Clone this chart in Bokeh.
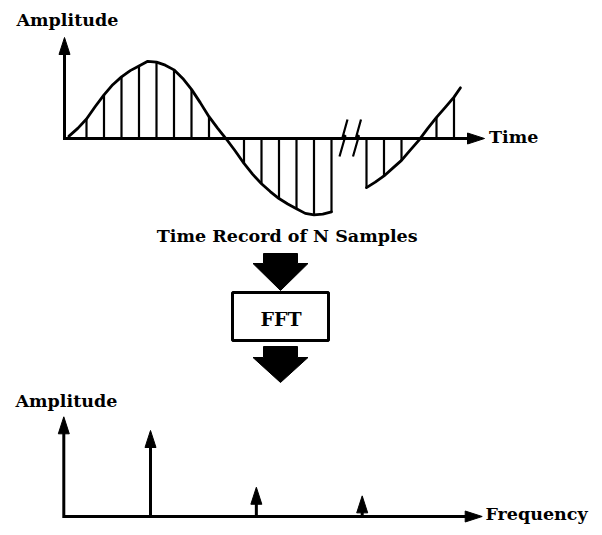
from bokeh.plotting import figure
from bokeh.models import Range1d, Label
from bokeh.embed import file_html
from bokeh.resources import INLINE

# ---------------- data ----------------
# time record, first stretch: sample index (half-sample steps) and amplitude (peak = 1)
CURVE1_N = [0, 0.5, 1, 1.5, 2, 2.5, 3, 3.5, 4, 4.5, 5, 5.5, 6, 6.5, 7, 7.5,
            8, 8.5, 9, 9.5, 10, 10.5, 11, 11.5, 12, 12.5, 13, 13.5, 14, 14.5, 15]
CURVE1_V = [0.03, 0.13, 0.25, 0.41, 0.56, 0.69, 0.79, 0.87, 0.93, 0.99, 0.98, 0.94,
            0.88, 0.77, 0.63, 0.46, 0.28, 0.13, -0.01, -0.16, -0.32, -0.46, -0.58,
            -0.68, -0.77, -0.84, -0.90, -0.96, -0.98, -0.97, -0.94]
# time record, last stretch (after the break)
CURVE2_N = [17, 17.5, 18, 18.5, 19, 19.5, 20, 20.5, 21, 21.5, 22, 22.37]
CURVE2_V = [-0.63, -0.56, -0.48, -0.38, -0.28, -0.15, -0.02, 0.13, 0.27, 0.40, 0.53, 0.65]
# the drawn samples
SAMPLE_N = [1, 2, 3, 4, 5, 6, 7, 8, 9, 10, 11, 12, 13, 14, 15, 17, 18, 19, 20, 21, 22]
SAMPLE_V = [0.25, 0.56, 0.79, 0.93, 0.98, 0.88, 0.63, 0.28, -0.01, -0.32, -0.58,
            -0.77, -0.90, -0.98, -0.94, -0.63, -0.48, -0.28, -0.02, 0.27, 0.53]
# spectrum lines
SPEC_F = [1, 2, 3]
SPEC_A = [1.00, 0.34, 0.24]

TXT_AMP = "Amplitude"
TXT_TIME = "Time"
TXT_CAPTION = "Time Record of N Samples"
TXT_FFT = "FFT"
TXT_FREQ = "Frequency"

# ---------------- layout (pixels) ----------------
W, H = 594, 527
PX0, PX1, PY0, PY1 = 0, W, 0, H
FONT = "DejaVu Serif"
FSIZE = "17.5px"
INK = "black"
HEAD_L, HEAD_W = 17, 11
TXT_DY = -6.5  # rendered text sits lower than its anchor; compensate

# time panel
T_AXIS_X, T_BASE_Y, T_AXIS_TOP, T_AXIS_END = 64, 138, 37, 484
T_N0_X, T_DX, T_AMP_PX = 68.5, 17.5, 78
BREAK_X = [343, 356.5]
# frequency panel (moved up a little so that its label fits)
F_AXIS_X, F_BASE_Y, F_AXIS_TOP, F_AXIS_END = 63.3, 516, 416.3, 481.7
F_0_X, F_DX, F_AMP_PX = 44.15, 105.85, 86

p = figure(width=W, height=H, x_range=Range1d(PX0, PX1), y_range=Range1d(PY1, PY0),
           output_backend="svg", toolbar_location=None, min_border=0,
           x_axis_location=None, y_axis_location=None)
p.outline_line_color = None
p.background_fill_color = "white"
p.border_fill_color = "white"
p.grid.visible = False

p.extra_x_ranges = {
    "t": Range1d((PX0 - T_N0_X) / T_DX, (PX1 - T_N0_X) / T_DX),
    "f": Range1d((PX0 - F_0_X) / F_DX, (PX1 - F_0_X) / F_DX),
}
p.extra_y_ranges = {
    "a": Range1d((T_BASE_Y - PY1) / T_AMP_PX, (T_BASE_Y - PY0) / T_AMP_PX),
    "s": Range1d((F_BASE_Y - PY1) / F_AMP_PX, (F_BASE_Y - PY0) / F_AMP_PX),
}


def axes(ax_x, base_y, top_y, end_x):
    p.line([ax_x, ax_x, end_x - 8], [top_y + 8, base_y, base_y], line_width=3,
           color=INK, line_join="miter")
    p.patches([[ax_x - HEAD_W / 2, ax_x, ax_x + HEAD_W / 2],
               [end_x - HEAD_L, end_x, end_x - HEAD_L]],
              [[top_y + HEAD_L, top_y, top_y + HEAD_L],
               [base_y - HEAD_W / 2, base_y, base_y + HEAD_W / 2]],
              fill_color=INK, line_color=INK, line_width=1)


# ---------------- time record ----------------
axes(T_AXIS_X, T_BASE_Y, T_AXIS_TOP, T_AXIS_END)
p.segment(x0=SAMPLE_N, y0=[0] * len(SAMPLE_N), x1=SAMPLE_N, y1=SAMPLE_V,
          x_range_name="t", y_range_name="a", line_width=2.2, color=INK)
p.line(CURVE1_N, CURVE1_V, x_range_name="t", y_range_name="a",
       line_width=2.8, color=INK, line_join="round", line_cap="round")
p.line(CURVE2_N, CURVE2_V, x_range_name="t", y_range_name="a",
       line_width=2.8, color=INK, line_join="round", line_cap="round")
# break marks
bx, by = [], []
for cx in BREAK_X:
    bx.append([cx + 4, cx - 1, cx + 2, cx - 4])
    by.append([T_BASE_Y - 19, T_BASE_Y - 1, T_BASE_Y - 3, T_BASE_Y + 18])
p.multi_line(bx, by, line_width=2.2, color=INK)

# ---------------- FFT block ----------------
def block_arrow(top, shoulder, tip, cx=280, shaft=17, head=27.5):
    return ([cx - shaft, cx + shaft, cx + shaft, cx + head, cx, cx - head, cx - shaft],
            [top, top, shoulder, shoulder, tip, shoulder, shoulder])

a1 = block_arrow(253, 263, 290)
a2 = block_arrow(346, 357, 382)
p.patches([a1[0], a2[0]], [a1[1], a2[1]], fill_color=INK, line_color=INK, line_width=1)
p.quad(left=232, right=328, top=292, bottom=340, fill_color=None,
       line_color=INK, line_width=3)

# ---------------- spectrum ----------------
axes(F_AXIS_X, F_BASE_Y, F_AXIS_TOP, F_AXIS_END)
hl = HEAD_L / F_AMP_PX
hw = HEAD_W / 2 / F_DX
p.segment(x0=SPEC_F, y0=[0] * 3, x1=SPEC_F, y1=[a - hl * 0.6 for a in SPEC_A],
          x_range_name="f", y_range_name="s", line_width=3, color=INK)
p.patches([[f - hw, f, f + hw] for f in SPEC_F],
          [[a - hl, a, a - hl] for a in SPEC_A],
          x_range_name="f", y_range_name="s", fill_color=INK, line_color=INK, line_width=1)

# ---------------- texts ----------------
def label(x, y, text, align="left", size=FSIZE):
    p.add_layout(Label(x=x, y=y + TXT_DY, text=text, text_align=align,
                       text_baseline="alphabetic", text_font=FONT,
                       text_font_style="bold", text_font_size=size, text_color=INK))

label(16, 26, TXT_AMP)
label(488.5, 142.7, TXT_TIME)
label(286.7, 242.3, TXT_CAPTION, "center")
label(280.5, 324.5, TXT_FFT, "center", "19px")
label(15, 407, TXT_AMP)
label(485, 519.5, TXT_FREQ)

open("out.html", "w").write(file_html(p, INLINE))
